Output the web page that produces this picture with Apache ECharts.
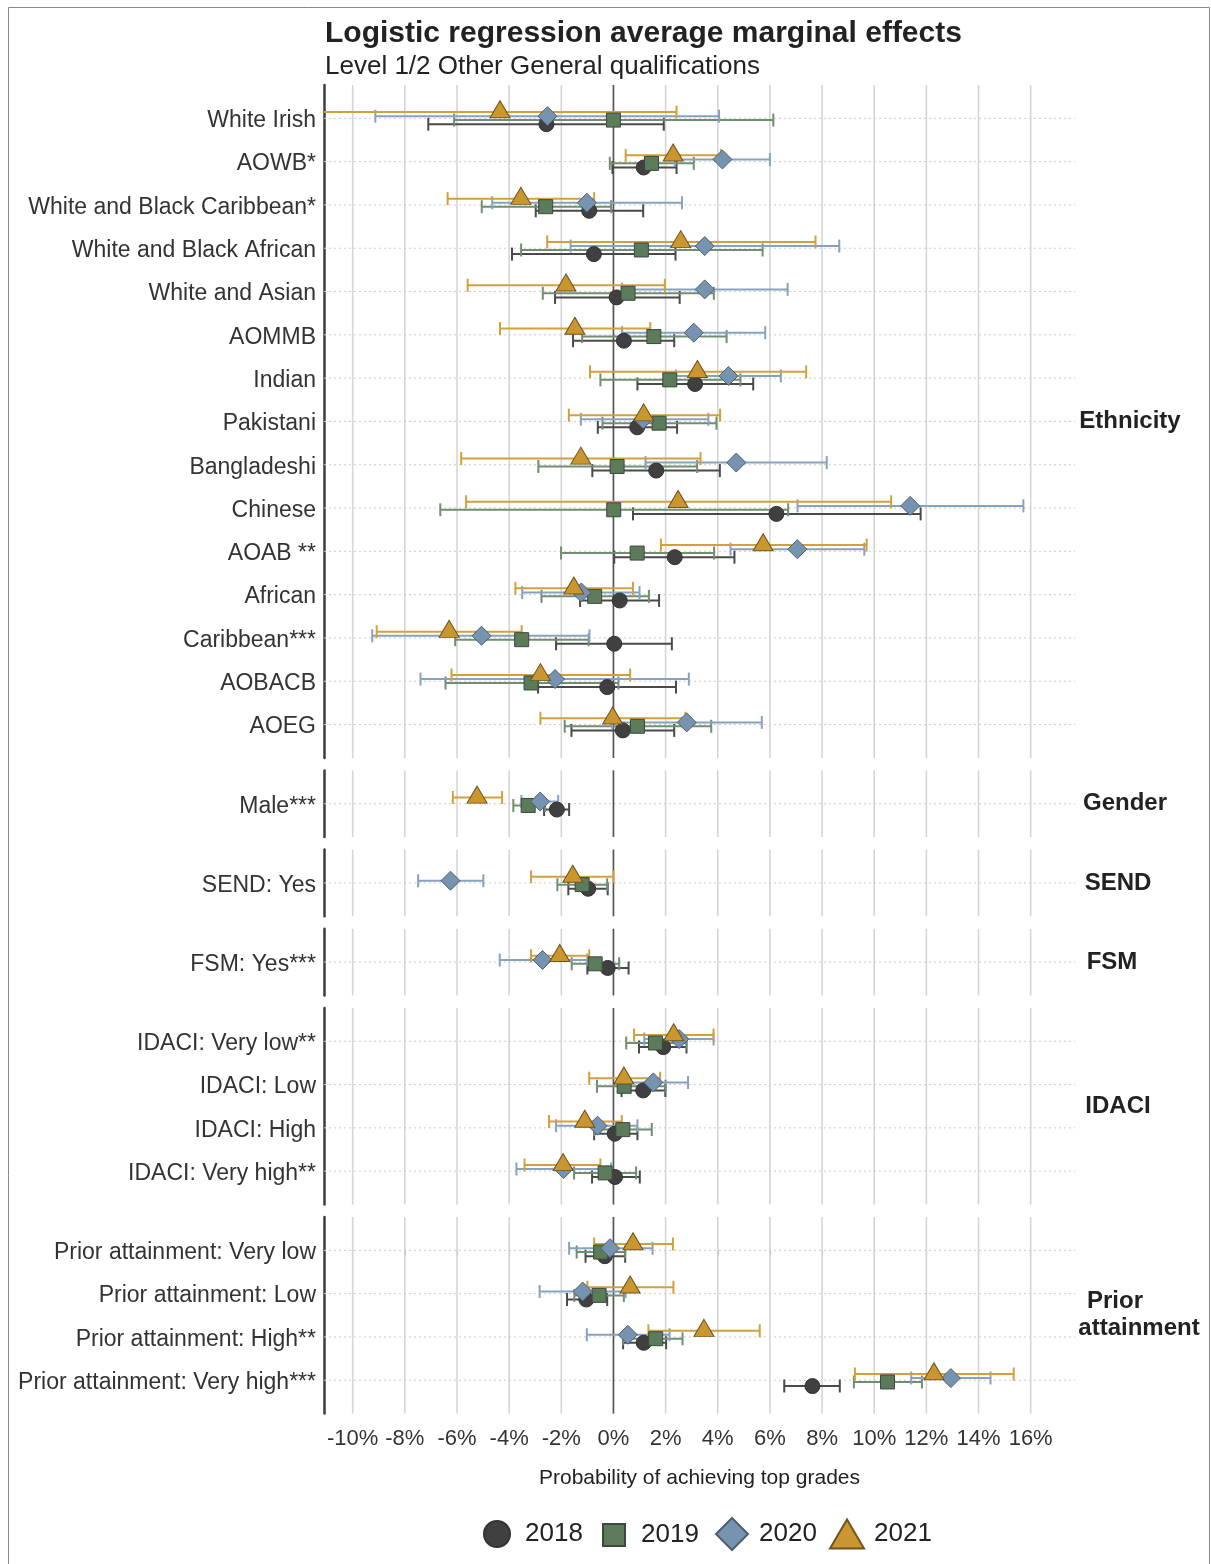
<!DOCTYPE html>
<html>
<head>
<meta charset="utf-8">
<title>Logistic regression average marginal effects</title>
<script src="https://cdn.jsdelivr.net/npm/echarts@6/dist/echarts.min.js"></script>
<style>
  html, body { margin: 0; padding: 0; background: #ffffff; }
  #chart { width: 1211px; height: 1564px; }
</style>
</head>
<body>
<div id="chart"></div>
<script>
// ---- data: average marginal effects in percentage points, [estimate, lower, upper] ----
const YEARS = ['2018', '2019', '2020', '2021'];
const X_TICKS = [-10, -8, -6, -4, -2, 0, 2, 4, 6, 8, 10, 12, 14, 16];

const ETHNICITY_ROWS = ['White Irish', 'AOWB*', 'White and Black Caribbean*', 'White and Black African',
  'White and Asian', 'AOMMB', 'Indian', 'Pakistani', 'Bangladeshi', 'Chinese', 'AOAB **', 'African',
  'Caribbean***', 'AOBACB', 'AOEG'];
const ETHNICITY_2018 = [[-2.57, -7.10, 1.93], [1.16, -0.04, 2.42], [-0.93, -2.98, 1.14], [-0.75, -3.89, 2.38],
  [0.12, -2.24, 2.54], [0.40, -1.55, 2.33], [3.13, 0.92, 5.36], [0.91, -0.60, 2.44], [1.64, -0.81, 4.08],
  [6.25, 0.75, 11.78], [2.35, 0.03, 4.64], [0.24, -1.28, 1.75], [0.03, -2.20, 2.24], [-0.24, -2.89, 2.40],
  [0.36, -1.61, 2.33]];
const ETHNICITY_2019 = [[0.00, -6.11, 6.13], [1.46, -0.14, 3.08], [-2.60, -5.05, -0.09], [1.07, -3.54, 5.72],
  [0.56, -2.71, 3.85], [1.55, -1.20, 4.34], [2.16, -0.50, 4.87], [1.75, -0.42, 3.95], [0.14, -2.88, 3.21],
  [0.01, -6.64, 6.70], [0.91, -2.01, 3.86], [-0.72, -2.76, 1.36], [-3.52, -6.07, -0.95], [-3.16, -6.44, 0.19],
  [0.92, -1.87, 3.75]];
const ETHNICITY_2020 = [[-2.53, -9.13, 4.05], [4.18, 2.35, 6.00], [-1.02, -4.65, 2.63], [3.50, -1.64, 8.66],
  [3.50, 0.33, 6.68], [3.08, 0.33, 5.82], [4.41, 2.40, 6.42], [1.14, -1.25, 3.64], [4.71, 1.23, 8.18],
  [11.38, 7.06, 15.72], [7.05, 4.49, 9.62], [-1.23, -3.50, 1.00], [-5.06, -9.25, -0.92], [-2.24, -7.40, 2.89],
  [2.81, -0.05, 5.69]];
const ETHNICITY_2021 = [[-4.35, -11.60, 2.42], [2.29, 0.47, 4.12], [-3.55, -6.36, -0.74], [2.58, -2.54, 7.75],
  [-1.82, -5.59, 1.97], [-1.48, -4.35, 1.41], [3.22, -0.90, 7.39], [1.16, -1.71, 4.09], [-1.25, -5.84, 3.34],
  [2.48, -5.65, 10.65], [5.74, 1.82, 9.71], [-1.52, -3.76, 0.75], [-6.30, -9.08, -3.52], [-2.80, -6.21, 0.64],
  [-0.03, -2.80, 2.76]];

const GENDER_ROWS = ['Male***'];
const GENDER_2018 = [[-2.17, -2.66, -1.70]];
const GENDER_2019 = [[-3.27, -3.84, -2.62]];
const GENDER_2020 = [[-2.81, -3.53, -2.12]];
const GENDER_2021 = [[-5.23, -6.16, -4.27]];

const SEND_ROWS = ['SEND: Yes'];
const SEND_2018 = [[-0.97, -1.73, -0.22]];
const SEND_2019 = [[-1.20, -2.15, -0.24]];
const SEND_2020 = [[-6.25, -7.49, -4.99]];
const SEND_2021 = [[-1.56, -3.16, 0.00]];

const FSM_ROWS = ['FSM: Yes***'];
const FSM_2018 = [[-0.22, -1.00, 0.58]];
const FSM_2019 = [[-0.70, -1.60, 0.22]];
const FSM_2020 = [[-2.72, -4.36, -1.00]];
const FSM_2021 = [[-2.06, -3.16, -0.93]];

const IDACI_ROWS = ['IDACI: Very low**', 'IDACI: Low', 'IDACI: High', 'IDACI: Very high**'];
const IDACI_2018 = [[1.91, 0.98, 2.80], [1.14, 0.31, 1.99], [0.05, -0.74, 0.92], [0.06, -0.82, 1.01]];
const IDACI_2019 = [[1.61, 0.49, 2.80], [0.41, -0.63, 2.00], [0.36, -0.74, 1.47], [-0.32, -1.51, 0.87]];
const IDACI_2020 = [[2.52, 1.18, 3.84], [1.53, 0.31, 2.86], [-0.61, -2.20, 0.92], [-1.91, -3.72, -0.09]];
const IDACI_2021 = [[2.31, 0.79, 3.84], [0.40, -0.93, 1.79], [-1.10, -2.47, 0.32], [-1.93, -3.41, -0.50]];

const PRIOR_ROWS = ['Prior attainment: Very low', 'Prior attainment: Low', 'Prior attainment: High**',
  'Prior attainment: Very high***'];
const PRIOR_2018 = [[-0.33, -1.07, 0.45], [-1.04, -1.78, -0.24], [1.16, 0.37, 2.02], [7.63, 6.55, 8.68]];
const PRIOR_2019 = [[-0.49, -1.41, 0.45], [-0.55, -1.50, 0.40], [1.62, 0.37, 2.65], [10.51, 9.22, 11.83]];
const PRIOR_2020 = [[-0.13, -1.70, 1.50], [-1.18, -2.83, 0.47], [0.55, -1.02, 2.15], [12.94, 11.42, 14.46]];
const PRIOR_2021 = [[0.75, -0.74, 2.28], [0.64, -1.00, 2.30], [3.47, 1.34, 5.61], [12.29, 9.26, 15.35]];

// ---- panels ----
const PANELS = [
  { strip: ['Ethnicity'], rows: ETHNICITY_ROWS, values: [ETHNICITY_2018, ETHNICITY_2019, ETHNICITY_2020, ETHNICITY_2021] },
  { strip: ['Gender'], rows: GENDER_ROWS, values: [GENDER_2018, GENDER_2019, GENDER_2020, GENDER_2021] },
  { strip: ['SEND'], rows: SEND_ROWS, values: [SEND_2018, SEND_2019, SEND_2020, SEND_2021] },
  { strip: ['FSM'], rows: FSM_ROWS, values: [FSM_2018, FSM_2019, FSM_2020, FSM_2021] },
  { strip: ['IDACI'], rows: IDACI_ROWS, values: [IDACI_2018, IDACI_2019, IDACI_2020, IDACI_2021] },
  { strip: ['Prior', 'attainment'], rows: PRIOR_ROWS, values: [PRIOR_2018, PRIOR_2019, PRIOR_2020, PRIOR_2021] }
];
const STRIP_X = [[1130], [1125], [1118], [1112], [1118], [1115, 1139]];

// ---- layout & style ----
const FONT = 'Liberation Sans, Arial, Helvetica, sans-serif';
const X_MIN = -11.1, X_MAX = 17.7;
const ROW_PX = 43.3;          // height of one row band
const PAD = 0.77;             // panel padding, in row bands
const PANEL_GAP = 12.5;
const FIRST_TOP = 85;
const GRID_LEFT = 324, GRID_RIGHT = 136;
// vertical dodge of each year within a row, in row bands
const DODGE = [0.135, 0.04, -0.05, -0.145];

const MARKER = [
  { symbol: 'circle', size: 15, offset: [0, 0], fill: '#404040', border: '#333333' },
  { symbol: 'rect', size: 14, offset: [0, 0], fill: '#5c7b5b', border: '#3b4a3b' },
  { symbol: 'diamond', size: 19, offset: [0, 0], fill: '#7693b0', border: '#4f5f70' },
  { symbol: 'triangle', size: [20, 17], offset: [0, -2.8], fill: '#c9962f', border: '#6f5320' }
];
const BAR_COLOR = ['#4a4a4a', '#6f8f6f', '#87a2bf', '#d3a03c'];
const CAP = 6.5;

// panel positions
let cursor = FIRST_TOP;
const panelBox = PANELS.map(p => {
  const h = (p.rows.length - 1 + 2 * PAD) * ROW_PX;
  const box = { top: cursor, height: h };
  cursor += h + PANEL_GAP;
  return box;
});
const LAST = PANELS.length - 1;

function renderFrame(panel) {
  return function (params, api) {
    const cs = params.coordSys;
    const children = [];
    X_TICKS.forEach(t => {
      const x = api.coord([t, 0])[0];
      children.push({ type: 'line', shape: { x1: x, y1: cs.y, x2: x, y2: cs.y + cs.height },
        style: { stroke: '#d5d5d5', lineWidth: 1.6 } });
    });
    panel.rows.forEach((_, k) => {
      const y = api.coord([0, k])[1];
      children.push({ type: 'line', shape: { x1: cs.x, y1: y, x2: cs.x + cs.width, y2: y },
        style: { stroke: '#cccccc', lineWidth: 1, lineDash: [2, 3] } });
    });
    const x0 = api.coord([0, 0])[0];
    children.push({ type: 'line', shape: { x1: x0, y1: cs.y, x2: x0, y2: cs.y + cs.height },
      style: { stroke: '#555555', lineWidth: 1.6 } });
    return { type: 'group', children };
  };
}

function renderBar(params, api) {
  const lo = api.value(0), hi = api.value(1), y = api.value(2), yr = api.value(3);
  const a = api.coord([lo, y]), b = api.coord([hi, y]);
  const style = { stroke: BAR_COLOR[yr], lineWidth: 2 };
  return { type: 'group', children: [
    { type: 'line', shape: { x1: a[0], y1: a[1], x2: b[0], y2: b[1] }, style },
    { type: 'line', shape: { x1: a[0], y1: a[1] - CAP, x2: a[0], y2: a[1] + CAP }, style },
    { type: 'line', shape: { x1: b[0], y1: b[1] - CAP, x2: b[0], y2: b[1] + CAP }, style }
  ] };
}

const grid = [], xAxis = [], yAxis = [], series = [], graphic = [];

PANELS.forEach((p, i) => {
  const last = i === LAST;
  grid.push({ left: GRID_LEFT, right: GRID_RIGHT, top: panelBox[i].top, height: panelBox[i].height,
    outerBoundsMode: 'none' });
  xAxis.push({
    gridIndex: i, type: 'value', min: X_MIN, max: X_MAX,
    axisLine: { show: false },
    splitLine: { show: false },
    axisTick: { show: last, customValues: X_TICKS, length: 5, lineStyle: { color: '#aaaaaa', width: 1.2 } },
    axisLabel: { show: last, customValues: X_TICKS, formatter: v => v + '%', fontSize: 22, color: '#333333',
      margin: 14, fontFamily: FONT },
    name: last ? 'Probability of achieving top grades' : '',
    nameLocation: 'middle', nameGap: 54,
    nameTextStyle: { fontSize: 21, color: '#222222', fontFamily: FONT }
  });
  yAxis.push({
    gridIndex: i, type: 'value', inverse: true, min: -PAD, max: p.rows.length - 1 + PAD,
    axisLine: { show: true, onZero: false, lineStyle: { color: '#3c3c3c', width: 2.5 } },
    axisTick: { show: false },
    splitLine: { show: false },
    axisLabel: {
      customValues: p.rows.map((_, k) => k),
      formatter: v => '{row|' + p.rows[Math.round(v)] + '}',
      margin: 8,
      rich: { row: { fontSize: 23, color: '#333333', fontFamily: FONT, padding: [5, 0, 0, 0] } }
    }
  });

  series.push({
    type: 'custom', name: 'frame-' + i, xAxisIndex: i, yAxisIndex: i, silent: true, clip: false, z: 1,
    renderItem: renderFrame(p), data: [[0, 0]]
  });

  const bars = [];
  p.values.forEach((vals, yr) => {
    vals.forEach((v, k) => bars.push([v[1], v[2], k + DODGE[yr], yr]));
  });
  series.push({
    type: 'custom', name: 'ci-' + i, xAxisIndex: i, yAxisIndex: i, silent: true, clip: true, z: 2,
    encode: { x: [0, 1], y: 2 }, renderItem: renderBar, data: bars
  });

  p.values.forEach((vals, yr) => {
    const m = MARKER[yr];
    series.push({
      type: 'scatter', name: YEARS[yr], xAxisIndex: i, yAxisIndex: i, z: 3 + yr,
      symbol: m.symbol, symbolSize: m.size, symbolOffset: m.offset,
      itemStyle: { color: m.fill, borderColor: m.border, borderWidth: 1, opacity: 1 },
      emphasis: { disabled: true },
      data: vals.map((v, k) => [v[0], k + DODGE[yr]])
    });
  });

  // facet strip label on the right
  const cy = panelBox[i].top + panelBox[i].height / 2;
  p.strip.forEach((line, j) => {
    graphic.push({
      type: 'text', x: STRIP_X[i][j], y: cy + (j - (p.strip.length - 1) / 2) * 27,
      style: { text: line, fontSize: 24, fontWeight: 'bold', fill: '#222222', fontFamily: FONT,
        textAlign: 'center', textVerticalAlign: 'middle' }
    });
  });
});

// outer frame of the figure
graphic.push({ type: 'rect', shape: { x: 8.5, y: 7.5, width: 1201, height: 1570 },
  style: { fill: 'none', stroke: '#8a8a8a', lineWidth: 1 }, silent: true });

// one legend per year so each key symbol keeps its own size
const LEGEND_ICON = ['circle', 'rect', 'diamond', 'path://M0,29L17,0L34,29Z'];
const LEGEND_CENTER = [496, 613, 731, 846];
const LEGEND_SIZE = [[26, 26], [22, 22], [32, 32], [34, 29]];
const LEGEND_TEXT_LEFT = [524, 640, 758, 873];
const legend = YEARS.map((y, k) => {
  const [w, h] = LEGEND_SIZE[k];
  const boxLeft = LEGEND_CENTER[k] - w / 2;
  return {
    data: [{ name: y, icon: LEGEND_ICON[k] }],
    left: boxLeft, top: 1533 - h / 2,
    itemWidth: w, itemHeight: h, padding: 0, selectedMode: false,
    textStyle: { fontSize: 26, color: '#222222', fontFamily: FONT,
      padding: [0, 0, 0, LEGEND_TEXT_LEFT[k] - (boxLeft + w + 5)] }
  };
});

const chart = echarts.init(document.getElementById('chart'), null, { renderer: 'canvas' });
chart.setOption({
  animation: false,
  backgroundColor: '#ffffff',
  textStyle: { fontFamily: FONT },
  title: {
    text: 'Logistic regression average marginal effects',
    subtext: 'Level 1/2 Other General qualifications',
    left: 325, top: 19, itemGap: 5, padding: 0,
    textStyle: { fontSize: 30, fontWeight: 'bold', color: '#222222', fontFamily: FONT },
    subtextStyle: { fontSize: 26, color: '#222222', fontFamily: FONT }
  },
  legend, grid, xAxis, yAxis, series, graphic
});
</script>
</body>
</html>
